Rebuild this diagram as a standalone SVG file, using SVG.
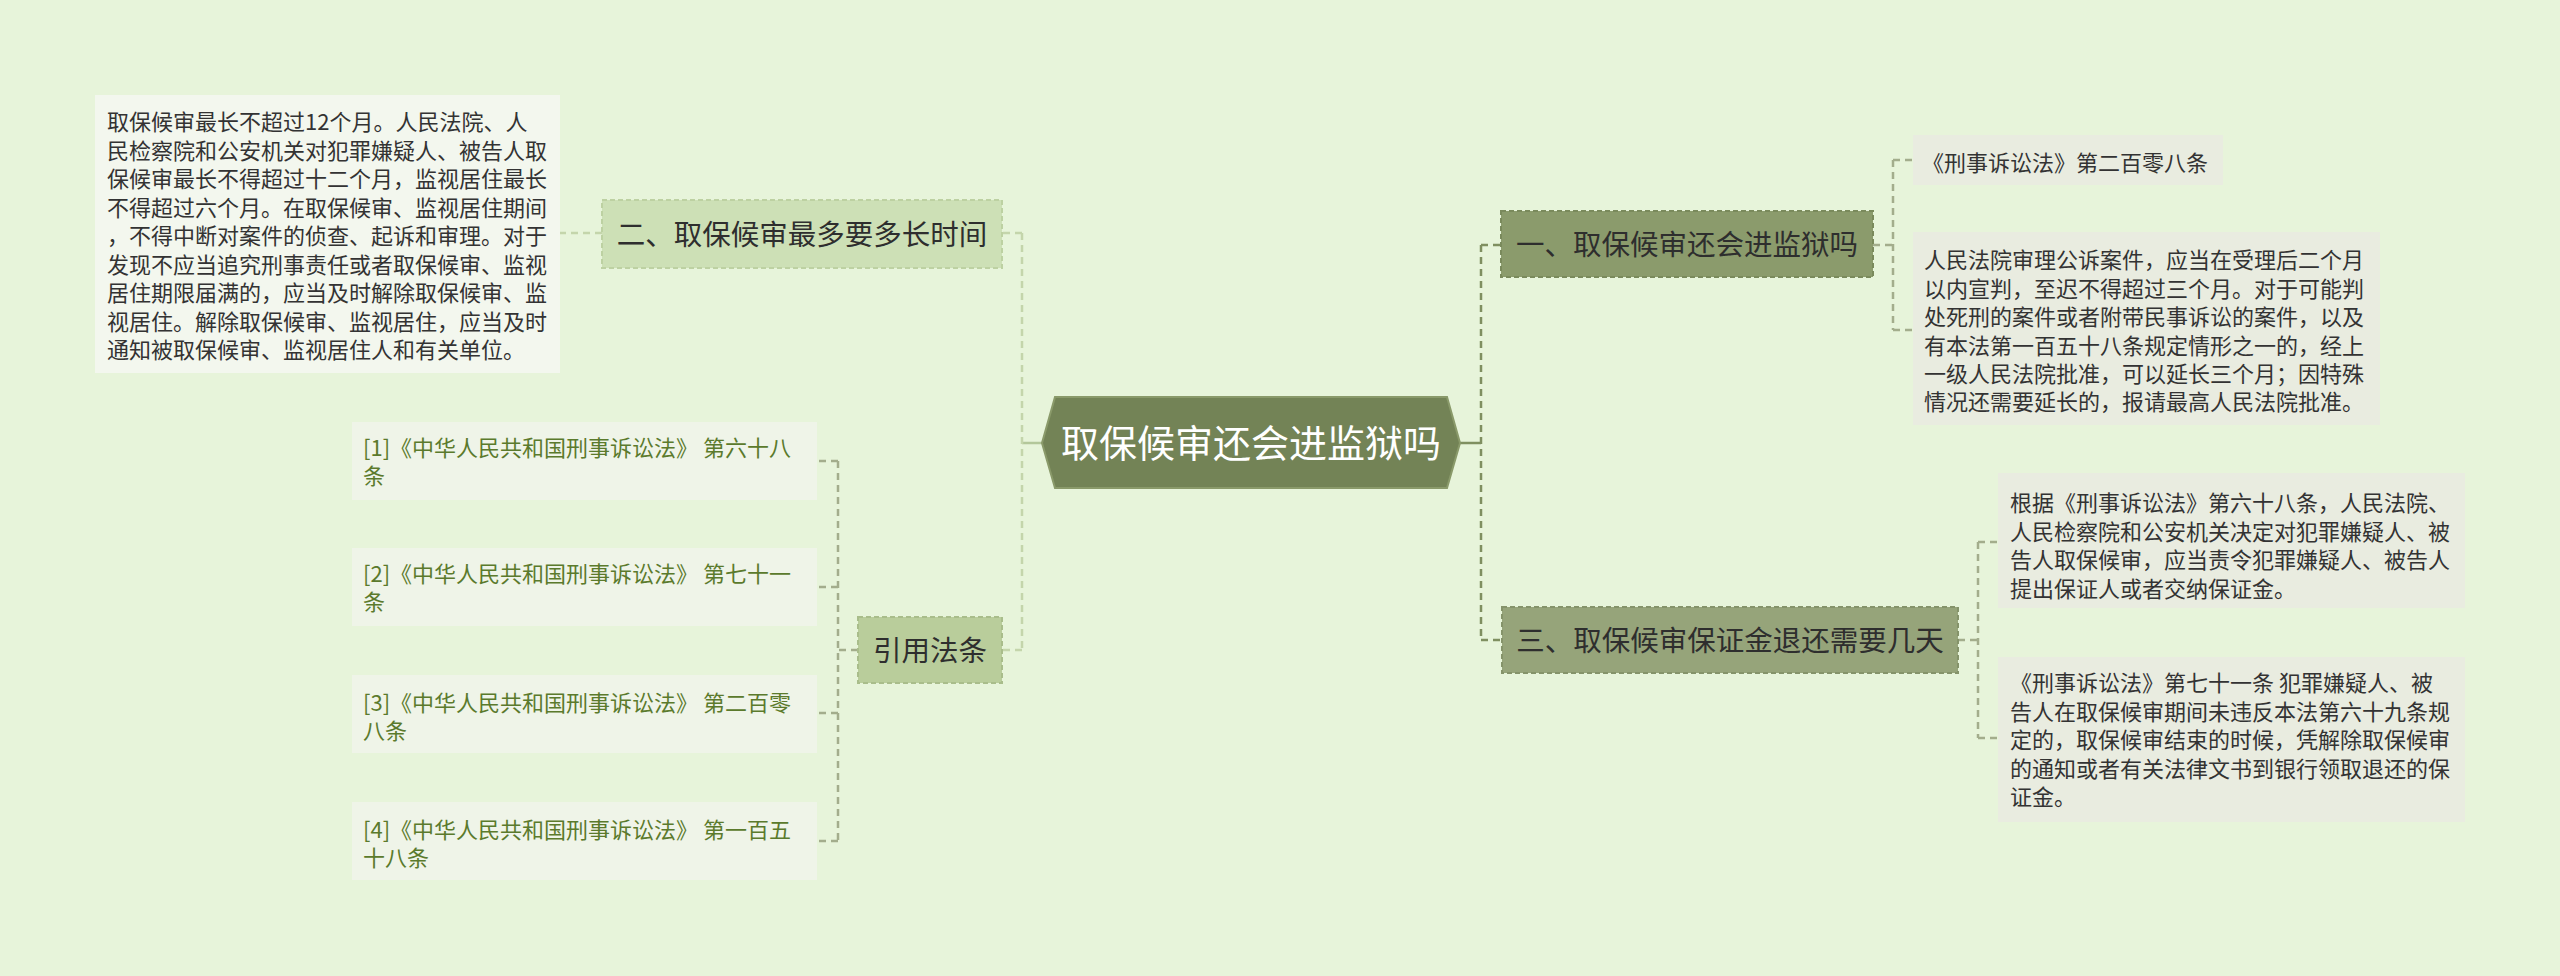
<svg xmlns="http://www.w3.org/2000/svg" width="2560" height="976" viewBox="0 0 2560 976">
<style>
text{font-family:"Noto Sans CJK SC","Liberation Sans",sans-serif}
.t22{font-size:22px;fill:#333}
.ref{font-size:22px;fill:#5b7a2c}
.t28{font-size:28.5px;fill:#2e2e2e;text-anchor:middle}
.note{fill:#f3f7ee}
.grey{fill:#e9ece0}
.refbox{fill:#eff4e8}
.lvl1a{fill:#cde0b6;stroke:#bdd1a2;stroke-width:2;stroke-dasharray:5 3}
.lvl1b{fill:#8b9b6c;stroke:#7a8a5c;stroke-width:2;stroke-dasharray:5 3}
.lvl1d{fill:#96a47a;stroke:#85936a;stroke-width:2;stroke-dasharray:5 3}
.lvl1c{fill:#b9cd9b;stroke:#a9bd8b;stroke-width:2;stroke-dasharray:5 3}
.c{fill:none;stroke-width:2.5;stroke-dasharray:7 5}
.cl{stroke:#c4d5ab}
.cr{stroke:#7f8f60}
.cg{stroke:#a3ad8c}
.cs{fill:none;stroke-width:2.5}
</style>
<rect width="2560" height="976" fill="#e7f4da"/>
<g id="connectors">
<path class="cs" stroke="#b3c79a" d="M1042,443 H1022"/>
<path class="c cl" d="M1022,233 V650 M1022,233 H1002 M1022,650 H1002"/>
<path class="c cl" d="M602,233 H560"/>
<path class="c cg" d="M858,650 H838 M838,461 V841 M838,461 H817 M838,587 H817 M838,713 H817 M838,841 H817"/>
<path class="cs" stroke="#7f8f60" d="M1460,443 H1481"/>
<path class="c cr" d="M1481,245 V640 M1481,245 H1501 M1481,640 H1502"/>
<path class="c cg" d="M1873,245 H1893 M1893,160 V330 M1893,160 H1913 M1893,330 H1913"/>
<path class="c cg" d="M1958,640 H1978 M1978,542 V738 M1978,542 H1998 M1978,738 H1998"/>
</g>
<g id="root">
<polygon points="1042,443 1055,397 1447,397 1460,443 1447,488 1055,488" fill="#738356" stroke="#8a9a6a" stroke-width="2"/>
<text x="1251" y="457" style="font-size:38px;fill:#ffffff;text-anchor:middle">取保候审还会进监狱吗</text>
</g>
<g id="n-er">
<rect class="lvl1a" x="602" y="200" width="400" height="68"/>
<text class="t28" x="802" y="245">二、取保候审最多要多长时间</text>
</g>
<g id="n-er-detail">
<rect class="note" x="95" y="95" width="465" height="278"/>
<text class="t22" x="107" y="130.4">取保候审最长不超过12个月。人民法院、人</text>
<text class="t22" x="107" y="158.9">民检察院和公安机关对犯罪嫌疑人、被告人取</text>
<text class="t22" x="107" y="187.4">保候审最长不得超过十二个月，监视居住最长</text>
<text class="t22" x="107" y="215.9">不得超过六个月。在取保候审、监视居住期间</text>
<text class="t22" x="107" y="244.4">，不得中断对案件的侦查、起诉和审理。对于</text>
<text class="t22" x="107" y="272.9">发现不应当追究刑事责任或者取保候审、监视</text>
<text class="t22" x="107" y="301.4">居住期限届满的，应当及时解除取保候审、监</text>
<text class="t22" x="107" y="329.9">视居住。解除取保候审、监视居住，应当及时</text>
<text class="t22" x="107" y="358.4">通知被取保候审、监视居住人和有关单位。</text>
</g>
<g id="n-yinyong">
<rect class="lvl1c" x="858" y="617" width="144" height="66"/>
<text class="t28" x="930" y="661">引用法条</text>
</g>
<g id="ref1">
<rect class="refbox" x="352" y="422" width="465" height="78"/>
<text class="ref" x="363" y="456">[1]《中华人民共和国刑事诉讼法》 第六十八</text>
<text class="ref" x="363" y="484">条</text>
</g>
<g id="ref2">
<rect class="refbox" x="352" y="548" width="465" height="78"/>
<text class="ref" x="363" y="582">[2]《中华人民共和国刑事诉讼法》 第七十一</text>
<text class="ref" x="363" y="610">条</text>
</g>
<g id="ref3">
<rect class="refbox" x="352" y="675" width="465" height="78"/>
<text class="ref" x="363" y="711">[3]《中华人民共和国刑事诉讼法》 第二百零</text>
<text class="ref" x="363" y="739">八条</text>
</g>
<g id="ref4">
<rect class="refbox" x="352" y="802" width="465" height="78"/>
<text class="ref" x="363" y="838">[4]《中华人民共和国刑事诉讼法》 第一百五</text>
<text class="ref" x="363" y="866">十八条</text>
</g>
<g id="n-yi">
<rect class="lvl1b" x="1501" y="211" width="372" height="66"/>
<text class="t28" x="1687" y="255">一、取保候审还会进监狱吗</text>
</g>
<g id="n-yi-a">
<rect class="grey" x="1913" y="135" width="310" height="50"/>
<text class="t22" x="1922" y="171">《刑事诉讼法》第二百零八条</text>
</g>
<g id="n-yi-b">
<rect class="grey" x="1913" y="232" width="467" height="193"/>
<text class="t22" x="1924" y="268.4">人民法院审理公诉案件，应当在受理后二个月</text>
<text class="t22" x="1924" y="296.8">以内宣判，至迟不得超过三个月。对于可能判</text>
<text class="t22" x="1924" y="325.2">处死刑的案件或者附带民事诉讼的案件，以及</text>
<text class="t22" x="1924" y="353.6">有本法第一百五十八条规定情形之一的，经上</text>
<text class="t22" x="1924" y="382">一级人民法院批准，可以延长三个月；因特殊</text>
<text class="t22" x="1924" y="410.4">情况还需要延长的，报请最高人民法院批准。</text>
</g>
<g id="n-san">
<rect class="lvl1d" x="1502" y="607" width="456" height="66"/>
<text class="t28" x="1730" y="651">三、取保候审保证金退还需要几天</text>
</g>
<g id="n-san-a">
<rect class="grey" x="1998" y="473" width="467" height="135"/>
<text class="t22" x="2010" y="511.4">根据《刑事诉讼法》第六十八条，人民法院、</text>
<text class="t22" x="2010" y="539.8">人民检察院和公安机关决定对犯罪嫌疑人、被</text>
<text class="t22" x="2010" y="568.2">告人取保候审，应当责令犯罪嫌疑人、被告人</text>
<text class="t22" x="2010" y="596.6">提出保证人或者交纳保证金。</text>
</g>
<g id="n-san-b">
<rect class="grey" x="1998" y="657" width="467" height="165"/>
<text class="t22" x="2010" y="691.4">《刑事诉讼法》第七十一条 犯罪嫌疑人、被</text>
<text class="t22" x="2010" y="719.8">告人在取保候审期间未违反本法第六十九条规</text>
<text class="t22" x="2010" y="748.2">定的，取保候审结束的时候，凭解除取保候审</text>
<text class="t22" x="2010" y="776.6">的通知或者有关法律文书到银行领取退还的保</text>
<text class="t22" x="2010" y="805">证金。</text>
</g>
</svg>
